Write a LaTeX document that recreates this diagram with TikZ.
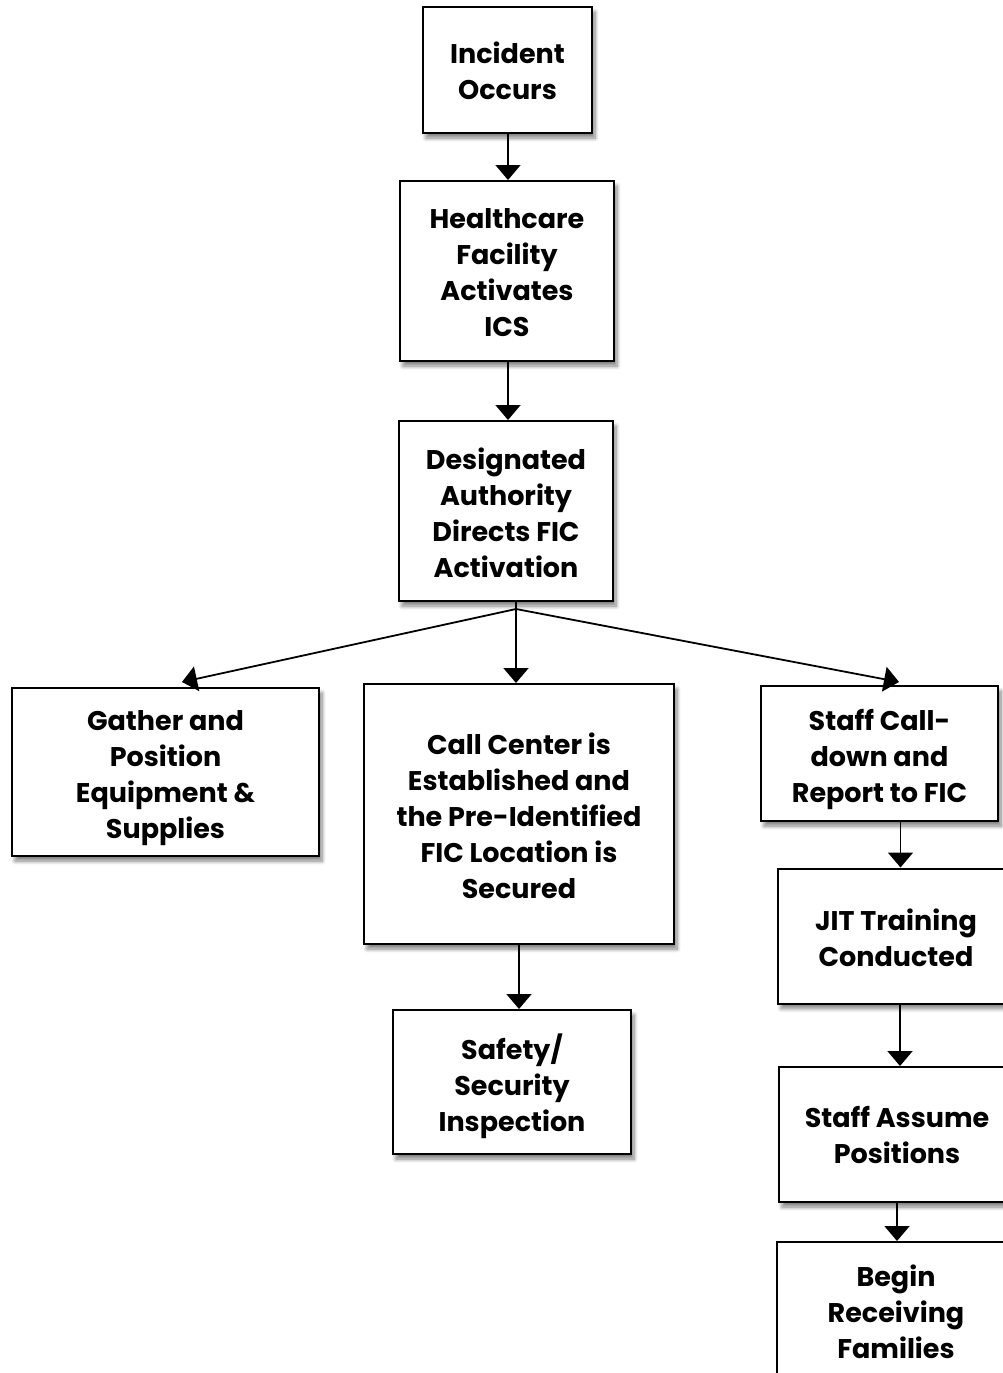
\documentclass[tikz,border=0pt]{standalone}
\usepackage{fontspec}
\setmainfont{Poppins}
\usetikzlibrary{arrows.meta,shadows.blur}
\tikzset{
  box/.style={draw=black, line width=2pt, fill=white, inner sep=0pt,
    blur shadow={shadow xshift=3pt, shadow yshift=-5pt, shadow blur steps=8, shadow blur radius=4pt, shadow opacity=50}},
  lbl/.style={align=center, inner sep=0pt, font=\bfseries\fontsize{27}{36}\selectfont},
  conn/.style={line width=1.8pt, draw=black},
  arr/.style={conn, -{Triangle[length=15pt,width=25pt]}}
}
\begin{document}
\begin{tikzpicture}[x=1pt,y=-1pt]
\useasboundingbox (0,0) rectangle (1003,1373);
\clip (0,0) rectangle (1003,1373);
\node[box, minimum width=169pt, minimum height=126pt,
  label={[lbl,yshift=-1pt]center:{Incident\\Occurs}}] (inc) at (507.5,70) {};
\node[box, minimum width=214pt, minimum height=180pt,
  label={[lbl,yshift=-2pt]center:{Healthcare\\Facility\\Activates\\ICS}}] (hc) at (507,271) {};
\node[box, minimum width=214pt, minimum height=180pt,
  label={[lbl,yshift=-2pt]center:{Designated\\Authority\\Directs FIC\\Activation}}] (da) at (506,511) {};
\node[box, minimum width=307pt, minimum height=168pt,
  label={[lbl,yshift=-6pt]center:{Gather and\\Position\\Equipment \&\\Supplies}}] (ga) at (165.5,772) {};
\node[box, minimum width=310pt, minimum height=260pt,
  label={[lbl,yshift=-2pt]center:{Call Center is\\Established and\\the Pre-Identified\\FIC Location is\\Secured}}] (cc) at (519,814) {};
\node[box, minimum width=238pt, minimum height=144pt,
  label={[lbl,yshift=-4pt]center:{Safety/\\Security\\Inspection}}] (sa) at (512,1082) {};
\node[box, minimum width=237pt, minimum height=135pt,
  label={[lbl,yshift=-6pt]center:{Staff Call-\\down and\\Report to FIC}}] (sc) at (879.5,753.5) {};
\node[box, minimum width=236pt, minimum height=135pt,
  label={[lbl,yshift=-2pt]center:{JIT Training\\Conducted}}] (jit) at (896,936) {};
\node[box, minimum width=236pt, minimum height=135pt,
  label={[lbl,yshift=-1pt]center:{Staff Assume\\Positions}}] (sap) at (897,1134.5) {};
\node[box, minimum width=238pt, minimum height=140pt,
  label={[lbl]center:{Begin\\Receiving\\Families}}] (bg) at (896,1312) {};
\coordinate (br) at (516,609);
\coordinate (gtip) at (182,682);
\coordinate (stip) at (899,682);
\draw[arr] ([xshift=0.5pt]inc.south) -- ([xshift=0.5pt]inc.south |- hc.north);
\draw[arr] ([xshift=1pt]hc.south) -- ([xshift=1pt]hc.south |- da.north);
\draw[conn] (da.south -| br) -- (br);
\draw[arr] (br) -- (br |- cc.north);
\draw[arr] (br) -- (gtip);
\draw[arr] (br) -- (stip);
\draw[arr] (cc.south) -- (cc.south |- sa.north);
\draw[arr] ([xshift=21pt]sc.south) -- ([xshift=21pt]sc.south |- jit.north);
\draw[arr] ([xshift=4pt]jit.south) -- ([xshift=4pt]jit.south |- sap.north);
\draw[arr] (sap.south) -- (sap.south |- bg.north);
\end{tikzpicture}
\end{document}
